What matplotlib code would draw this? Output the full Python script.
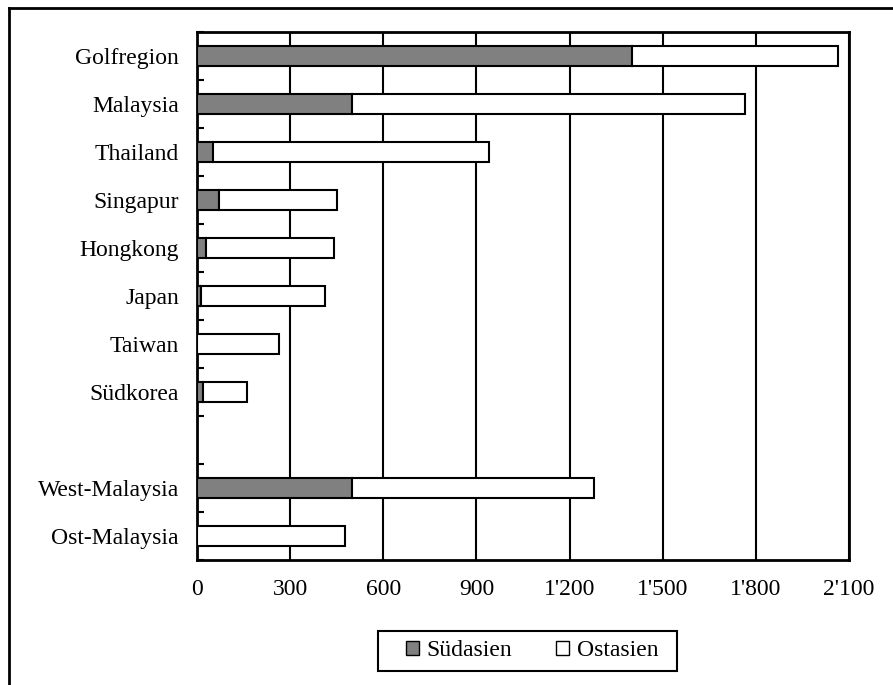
import matplotlib
matplotlib.use("Agg")
import matplotlib.pyplot as plt
from matplotlib.patches import Patch, Rectangle
from matplotlib.lines import Line2D
import numpy as np

categories = ['Golfregion', 'Malaysia', 'Thailand', 'Singapur', 'Hongkong',
              'Japan', 'Taiwan', 'Südkorea', '', 'West-Malaysia', 'Ost-Malaysia']
suedasien = [1400, 500, 50, 70, 30, 12, 0, 18, 0, 500, 0]
ostasien = [665, 1265, 890, 380, 410, 401, 265, 143, 0, 780, 477]
series_names = ['Südasien', 'Ostasien']
xticks = [0, 300, 600, 900, 1200, 1500, 1800, 2100]
xtick_labels = ["0", "300", "600", "900", "1'200", "1'500", "1'800", "2'100"]

plt.rcParams['font.family'] = ['Liberation Serif', 'DejaVu Serif']
FS = 17

W, H = 893, 685
fig = plt.figure(figsize=(W / 100, H / 100), dpi=100)
ax = fig.add_axes([197 / W, 1 - 560 / H, (849 - 197) / W, (560 - 32) / H])

idx = [i for i, c in enumerate(categories) if c]
y = np.array(idx, dtype=float)
s = np.array([suedasien[i] for i in idx], dtype=float)
o = np.array([ostasien[i] for i in idx], dtype=float)

bh = 0.43
ax.barh(y, s, height=bh, color='#808080', edgecolor='black', linewidth=1.5, zorder=3)
ax.barh(y, o, left=s, height=bh, color='white', edgecolor='black', linewidth=1.5, zorder=3)

ax.set_xlim(0, 2100)
ax.set_ylim(len(categories) - 0.5, -0.5)

ax.set_xticks(xticks)
ax.set_xticklabels(xtick_labels, fontsize=FS)
ax.tick_params(axis='x', length=0, pad=14)

ax.set_yticks(range(len(categories)))
ax.set_yticklabels(categories, fontsize=FS)
ax.tick_params(axis='y', which='major', length=0, pad=13)
ax.set_yticks(np.arange(-0.5, len(categories), 1.0), minor=True)
ax.tick_params(axis='y', which='minor', direction='in', length=5, width=1.5, color='black')

ax.grid(axis='x', color='black', linewidth=1.5, zorder=0)
ax.set_axisbelow(True)
for sp in ax.spines.values():
    sp.set_linewidth(2)
    sp.set_color('black')

handles = [Patch(facecolor='#808080', edgecolor='black', linewidth=1.0),
           Patch(facecolor='white', edgecolor='black', linewidth=1.0)]
leg = fig.legend(handles, series_names, loc='center',
                 bbox_to_anchor=(532 / W, 1 - 651 / H), ncol=2,
                 fontsize=FS, frameon=False, handlelength=0.55, handleheight=0.55,
                 handletextpad=0.3, columnspacing=1.9, borderpad=0.3,
                 borderaxespad=0)
# legend box
fig.add_artist(Rectangle((378 / W, 1 - 671 / H), (677 - 378) / W, 40 / H,
                         transform=fig.transFigure, facecolor='none',
                         edgecolor='black', linewidth=1.5))

# outer frame (left and top edges visible)
fig.add_artist(Line2D([9 / W, 9 / W], [1 - 8 / H, 0], transform=fig.transFigure,
                      color='black', linewidth=2))
fig.add_artist(Line2D([9 / W, 1], [1 - 8 / H, 1 - 8 / H], transform=fig.transFigure,
                      color='black', linewidth=2))

fig.savefig('out.png', dpi=100)
